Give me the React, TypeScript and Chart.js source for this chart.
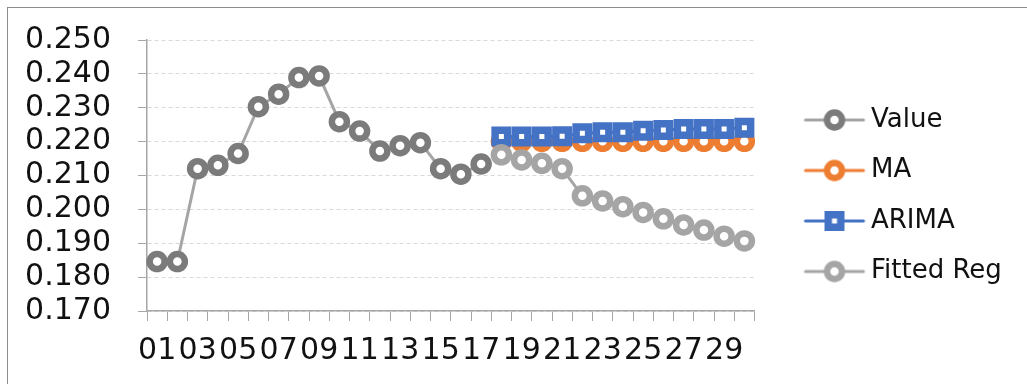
import React, { useEffect, useRef } from 'react';
import { Chart, registerables } from 'chart.js';

Chart.register(...registerables);

const categories = ['01', '02', '03', '04', '05', '06', '07', '08', '09', '10', '11', '12', '13', '14', '15', '16', '17', '18', '19', '20', '21', '22', '23', '24', '25', '26', '27', '28', '29', '30'];
const valueSeries = [0.1846, 0.1846, 0.212, 0.213, 0.2165, 0.2303, 0.234, 0.2389, 0.2394, 0.2259, 0.2231, 0.2172, 0.2188, 0.2197, 0.212, 0.2104, 0.2134];
const maSeries = [0.2201, 0.2201, 0.2201, 0.2201, 0.2201, 0.2201, 0.2201, 0.2201, 0.2201, 0.2201, 0.2201, 0.2201, 0.2201];
const arimaSeries = [0.2215, 0.2215, 0.2215, 0.2216, 0.2225, 0.2228, 0.2228, 0.2232, 0.2234, 0.2237, 0.2237, 0.2237, 0.2241];
const fittedSeries = [0.2161, 0.2146, 0.2136, 0.212, 0.204, 0.2025, 0.2008, 0.1991, 0.1972, 0.1954, 0.1939, 0.1921, 0.1907];
const seriesNames = ['Value', 'MA', 'ARIMA', 'Fitted Reg'];
const yMin = 0.17;
const yMax = 0.25;
const yStep = 0.01;

const VALUE_LINE = '#a5a5a5';
const VALUE_MARK = '#7b7b7b';
const MA_COLOR = '#ed7d31';
const ARIMA_COLOR = '#4472c4';
const FIT_COLOR = '#a5a5a5';
const AXIS_COLOR = '#a6a6a6';
const GRID_COLOR = '#d9d9d9';
const TEXT_COLOR = '#111111';
const FONT = 'DejaVu Sans';

function pad(before: number, values: number[], total: number): (number | null)[] {
  const out: (number | null)[] = [];
  for (let i = 0; i < before; i++) out.push(null);
  for (const v of values) out.push(v);
  while (out.length < total) out.push(null);
  return out;
}

function makeLegendIcon(lineColor: string, markColor: string, square: boolean): HTMLCanvasElement {
  const c = document.createElement('canvas');
  c.width = 100;
  c.height = 26;
  const g = c.getContext('2d')!;
  const mx = 66;
  const my = 13;
  g.strokeStyle = lineColor;
  g.lineWidth = 3;
  g.lineCap = 'round';
  g.beginPath();
  g.moveTo(mx - 29, my);
  g.lineTo(mx + 29, my);
  g.stroke();
  g.fillStyle = '#ffffff';
  g.strokeStyle = markColor;
  if (square) {
    g.lineWidth = 7.5;
    g.beginPath();
    g.rect(mx - 6.25, my - 6.25, 12.5, 12.5);
    g.fill();
    g.stroke();
  } else {
    g.lineWidth = 6.5;
    g.beginPath();
    g.arc(mx, my, 7.5, 0, Math.PI * 2);
    g.fill();
    g.stroke();
  }
  return c;
}

export default function App() {
  const ref = useRef<HTMLCanvasElement | null>(null);

  useEffect(() => {
    if (!ref.current) return;
    const n = categories.length;
    const start = valueSeries.length;
    const icons = [
      makeLegendIcon(VALUE_LINE, VALUE_MARK, false),
      makeLegendIcon(MA_COLOR, MA_COLOR, false),
      makeLegendIcon(ARIMA_COLOR, ARIMA_COLOR, true),
      makeLegendIcon(FIT_COLOR, FIT_COLOR, false),
    ];
    const circle = (line: string, mark: string, order: number, label: string, data: (number | null)[]) => ({
      label,
      data,
      order,
      borderColor: line,
      borderWidth: 3,
      pointStyle: 'circle',
      pointRadius: 7.5,
      pointBorderWidth: 6.5,
      pointBorderColor: mark,
      pointBackgroundColor: '#ffffff',
      tension: 0,
      spanGaps: false,
    });
    const chart = new Chart(ref.current, {
      type: 'line',
      data: {
        labels: categories,
        datasets: [
          circle(VALUE_LINE, VALUE_MARK, 4, seriesNames[0], pad(0, valueSeries, n)),
          circle(MA_COLOR, MA_COLOR, 3, seriesNames[1], pad(start, maSeries, n)),
          {
            label: seriesNames[2],
            data: pad(start, arimaSeries, n),
            order: 2,
            borderColor: ARIMA_COLOR,
            borderWidth: 3,
            pointStyle: 'rect',
            pointRadius: 8.84,
            pointBorderWidth: 7.5,
            pointBorderColor: ARIMA_COLOR,
            pointBackgroundColor: '#ffffff',
            tension: 0,
          },
          circle(FIT_COLOR, FIT_COLOR, 1, seriesNames[3], pad(start, fittedSeries, n)),
        ] as any,
      },
      options: {
        responsive: false,
        animation: false,
        events: [],
        layout: { padding: { left: 0, top: 7.5, right: 21, bottom: 0 } },
        font: { family: FONT },
        scales: {
          x: {
            type: 'category',
            offset: true,
            grid: {
              display: true,
              offset: true,
              drawOnChartArea: false,
              drawTicks: true,
              tickLength: 10,
              tickColor: AXIS_COLOR,
              tickWidth: 1,
            },
            border: { display: true, color: AXIS_COLOR, width: 1.5 },
            ticks: {
              autoSkip: false,
              maxRotation: 0,
              minRotation: 0,
              padding: 12,
              color: TEXT_COLOR,
              font: { family: FONT, size: 30 },
              callback: (_v: any, i: number) => (i % 2 === 0 ? categories[i] : ''),
            },
            afterFit: (scale: any) => {
              scale.height = 73;
            },
          },
          y: {
            type: 'linear',
            min: yMin,
            max: yMax,
            grid: {
              color: GRID_COLOR,
              lineWidth: 1,
              drawTicks: true,
              tickLength: 9,
              tickColor: AXIS_COLOR,
              tickWidth: 1,
            },
            border: { display: true, color: AXIS_COLOR, width: 1.5, dash: [4, 3] },
            ticks: {
              stepSize: yStep,
              autoSkip: false,
              padding: 27,
              color: TEXT_COLOR,
              font: { family: FONT, size: 30 },
              callback: (v: any) => Number(v).toFixed(3),
            },
            afterFit: (scale: any) => {
              scale.width = 147;
              scale.paddingTop = 40;
            },
          },
        },
        plugins: {
          tooltip: { enabled: false },
          legend: {
            display: true,
            position: 'right',
            align: 'center',
            labels: {
              usePointStyle: true,
              pointStyleWidth: 79,
              padding: 24.5,
              color: TEXT_COLOR,
              font: { family: FONT, size: 26 },
              sort: (a: any, b: any) => a.datasetIndex - b.datasetIndex,
              generateLabels: (ch: any) => {
                const items = (Chart.defaults.plugins.legend.labels as any).generateLabels(ch);
                return items.map((it: any) => ({ ...it, pointStyle: icons[it.datasetIndex], lineWidth: 0 }));
              },
            },
          },
        },
      } as any,
    });
    return () => chart.destroy();
  }, []);

  return (
    <div style={{ position: 'fixed', left: 0, top: 0, width: 1027, height: 384, overflow: 'hidden', background: '#ffffff' }}>
      <div style={{ position: 'absolute', left: 7, top: 7, width: 2000, height: 2000, borderTop: '1.5px solid #8c8c8c', borderLeft: '1.5px solid #8c8c8c' }} />
      <canvas ref={ref} width={1027} height={384} style={{ position: 'absolute', left: 0, top: 0, width: 1027, height: 384 }} />
    </div>
  );
}
